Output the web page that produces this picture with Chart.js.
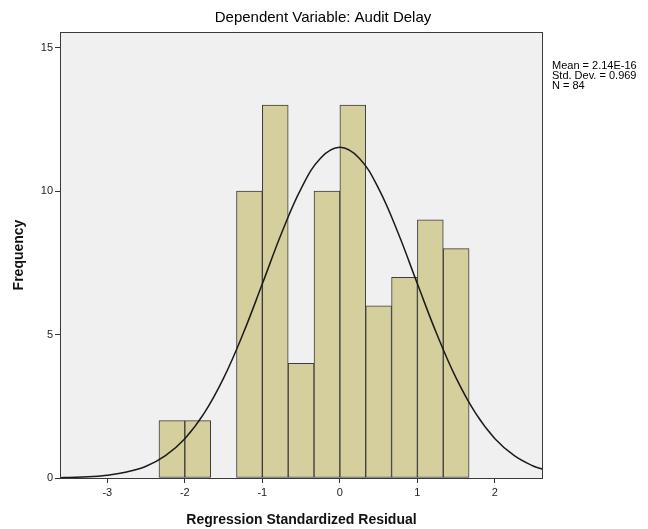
<!DOCTYPE html>
<html>
<head>
<meta charset="utf-8">
<script src="https://cdn.jsdelivr.net/npm/chart.js@4/dist/chart.umd.min.js"></script>
<style>
  body { margin: 0; background: #fff; }
  #wrap { width: 648px; height: 529px; }
</style>
</head>
<body>
<div id="wrap"><canvas id="histChart" width="648" height="529"></canvas></div>
<script>
// histogram bins (centres) and counts
const binCenters = [-2.1667, -1.8333, -1.5, -1.1667, -0.8333, -0.5, -0.1667, 0.1667, 0.5, 0.8333, 1.1667, 1.5];
const frequencies = [2, 2, 0, 10, 13, 4, 10, 13, 6, 7, 9, 8];

// normal curve
const curveX = [-3.61, -3.5, -3.25, -3.0, -2.75, -2.5, -2.25, -2.0, -1.75, -1.5, -1.25, -1.0, -0.75, -0.5, -0.25, 0,
                0.25, 0.5, 0.75, 1.0, 1.25, 1.5, 1.75, 2.0, 2.25, 2.5, 2.62];
const curveY = [0.01, 0.02, 0.04, 0.10, 0.21, 0.41, 0.78, 1.37, 2.26, 3.48, 5.02, 6.77, 8.55, 10.09, 11.15, 11.53,
                11.15, 10.09, 8.55, 6.77, 5.02, 3.48, 2.26, 1.37, 0.78, 0.41, 0.30];

const xTicks = [-3, -2, -1, 0, 1, 2];
const yTicks = [0, 5, 10, 15];
const statsLines = ['Mean = 2.14E-16', 'Std. Dev. = 0.969', 'N = 84'];

const plotDecor = {
    id: 'plotDecor',
    beforeDraw(chart) {
        const { ctx, chartArea: a } = chart;
        ctx.save();
        ctx.fillStyle = '#f0f0f0';
        ctx.fillRect(a.left, a.top, a.right - a.left, a.bottom - a.top);
        ctx.restore();
    },
    afterDraw(chart) {
        const { ctx, chartArea: a } = chart;
        ctx.save();
        ctx.strokeStyle = '#3a3a3a';
        ctx.lineWidth = 1;
        ctx.strokeRect(a.left + 0.5, a.top + 0.5, a.right - a.left - 1, a.bottom - a.top);
        // title
        ctx.fillStyle = '#000';
        ctx.font = '15px "Liberation Sans", Arial, sans-serif';
        ctx.textAlign = 'center';
        ctx.textBaseline = 'middle';
        ctx.fillText('Dependent Variable: Audit Delay', 323, 18);
        // stats box text
        ctx.font = '11px "Liberation Sans", Arial, sans-serif';
        ctx.textAlign = 'left';
        statsLines.forEach((t, i) => ctx.fillText(t, a.right + 9, 66 + i * 10));
        ctx.restore();
    }
};

const ctx = document.getElementById('histChart').getContext('2d');
new Chart(ctx, {
    type: 'bar',
    data: {
        datasets: [
            {
                type: 'line',
                label: 'Normal',
                data: curveX.map((x, i) => ({ x: x, y: curveY[i] })),
                borderColor: '#1a1a1a',
                borderWidth: 1.5,
                pointRadius: 0,
                tension: 0.4,
                fill: false,
                order: 0
            },
            {
                label: 'Frequency',
                data: binCenters.map((x, i) => ({ x: x, y: frequencies[i] })),
                backgroundColor: '#d4cf9c',
                borderColor: '#3c3c3c',
                borderWidth: 1,
                borderSkipped: false,
                barPercentage: 1,
                categoryPercentage: 1,
                order: 1
            }
        ]
    },
    options: {
        responsive: false,
        animation: false,
        layout: { padding: { top: 32, right: 105, left: 0, bottom: 0 } },
        plugins: { legend: { display: false }, tooltip: { enabled: false }, title: { display: false } },
        scales: {
            x: {
                type: 'linear',
                offset: false,
                min: -3.61,
                max: 2.62,
                afterBuildTicks: s => { s.ticks = xTicks.map(v => ({ value: v })); },
                afterFit: s => { s.height = 51; },
                grid: { display: true, offset: false, drawOnChartArea: false, drawTicks: true, tickLength: 5, color: '#333' },
                border: { display: false },
                ticks: { color: '#222', font: { size: 11, family: 'Liberation Sans' }, padding: 3, maxRotation: 0 },
                title: {
                    display: true,
                    text: 'Regression Standardized Residual',
                    color: '#111',
                    font: { size: 14, weight: 'bold', family: 'Liberation Sans' },
                    padding: { top: 10, bottom: 0 }
                }
            },
            y: {
                min: 0,
                max: 15.55,
                afterBuildTicks: s => { s.ticks = yTicks.map(v => ({ value: v })); },
                afterFit: s => { s.width = 60; },
                grid: { display: true, drawOnChartArea: false, drawTicks: true, tickLength: 5, color: '#333' },
                border: { display: false },
                ticks: { color: '#222', font: { size: 11, family: 'Liberation Sans' }, padding: 2 },
                title: {
                    display: true,
                    text: 'Frequency',
                    color: '#111',
                    font: { size: 14, weight: 'bold', family: 'Liberation Sans' },
                    padding: { top: 11, bottom: 4 }
                }
            }
        }
    },
    plugins: [plotDecor]
});
</script>
</body>
</html>
